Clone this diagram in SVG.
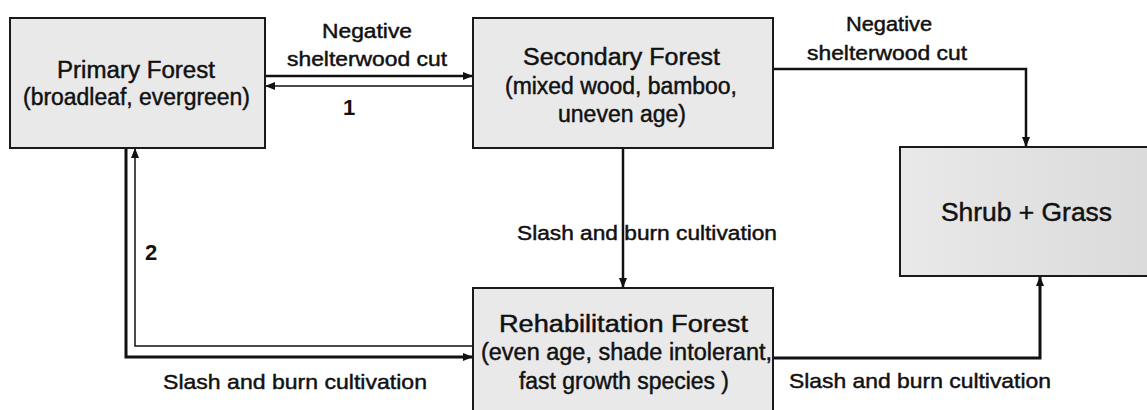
<svg xmlns="http://www.w3.org/2000/svg" width="1147" height="410" viewBox="0 0 1147 410">
<style>
.box{fill:#e9e9e9;stroke:#1a1a1a;stroke-width:2}
.t{font-family:"Liberation Sans",Arial,sans-serif;fill:#111;stroke:#111;stroke-width:0.45}
.n{font-size:23px}
.l{font-size:20px}
.b{font-size:21px}
.num{font-size:22px;font-weight:bold;stroke-width:0}
.thick{fill:none;stroke:#111;stroke-width:3}
.mid{fill:none;stroke:#111;stroke-width:2.5}
.thin{fill:none;stroke:#111;stroke-width:1.5}
</style>
<defs>
<marker id="ah" viewBox="0 0 10 8" refX="10" refY="4" markerWidth="11" markerHeight="8" markerUnits="userSpaceOnUse" orient="auto">
<path d="M0,0 L10,4 L0,8 z" fill="#111"/>
</marker>
<linearGradient id="shrubfill" x1="0" y1="0" x2="1" y2="0">
<stop offset="0" stop-color="#e9e9e9"/>
<stop offset="1" stop-color="#dadada"/>
</linearGradient>
</defs>
<rect width="1147" height="410" fill="#ffffff"/>
<g id="connectors">
<path class="mid" d="M265,76 H473" marker-end="url(#ah)"/>
<path class="thin" d="M473,86 H265" marker-end="url(#ah)"/>
<path class="mid" d="M773,69 H1026 V147" marker-end="url(#ah)"/>
<path class="mid" d="M623,148 V288" marker-end="url(#ah)"/>
<path class="thick" d="M126,148 V357 H473" marker-end="url(#ah)"/>
<path class="thin" d="M473,346 H135 V148" marker-end="url(#ah)"/>
<path class="thick" d="M773,358 H1040 V276" marker-end="url(#ah)"/>
<text class="t l" x="322" y="38" textLength="90" lengthAdjust="spacingAndGlyphs">Negative</text>
<text class="t l" x="287" y="66" textLength="160" lengthAdjust="spacingAndGlyphs">shelterwood cut</text>
<text class="t num" x="343" y="115">1</text>
<text class="t l" x="846" y="31" textLength="86" lengthAdjust="spacingAndGlyphs">Negative</text>
<text class="t l" x="807" y="60" textLength="160" lengthAdjust="spacingAndGlyphs">shelterwood cut</text>
<text class="t l" x="517" y="240" textLength="260" lengthAdjust="spacingAndGlyphs">Slash and burn cultivation</text>
<text class="t num" x="145" y="260">2</text>
<text class="t b" x="163" y="389" textLength="264" lengthAdjust="spacingAndGlyphs">Slash and burn cultivation</text>
<text class="t b" x="789" y="388" textLength="262" lengthAdjust="spacingAndGlyphs">Slash and burn cultivation</text>
</g>
<g id="primary">
<rect class="box" x="10" y="18" width="255" height="130"/>
<text class="t n" x="57" y="78" textLength="158" lengthAdjust="spacingAndGlyphs">Primary Forest</text>
<text class="t n" x="23" y="105" textLength="227" lengthAdjust="spacingAndGlyphs">(broadleaf, evergreen)</text>
</g>
<g id="secondary">
<rect class="box" x="473" y="18" width="300" height="130"/>
<text class="t n" x="523" y="65" textLength="197" lengthAdjust="spacingAndGlyphs">Secondary Forest</text>
<text class="t n" x="505" y="94" textLength="232" lengthAdjust="spacingAndGlyphs">(mixed wood, bamboo,</text>
<text class="t n" x="558" y="122" textLength="128" lengthAdjust="spacingAndGlyphs">uneven age)</text>
</g>
<g id="shrub">
<rect class="box" x="900" y="147" width="260" height="129" style="fill:url(#shrubfill)"/>
<text class="t" x="941" y="221" font-size="25" textLength="171" lengthAdjust="spacingAndGlyphs">Shrub + Grass</text>
</g>
<g id="rehab">
<rect class="box" x="473" y="288" width="300" height="125"/>
<text class="t n" x="499" y="332" textLength="249" lengthAdjust="spacingAndGlyphs">Rehabilitation Forest</text>
<text class="t n" x="481" y="360" textLength="291" lengthAdjust="spacingAndGlyphs">(even age, shade intolerant,</text>
<text class="t n" x="519" y="389" textLength="210" lengthAdjust="spacingAndGlyphs">fast growth species )</text>
</g>
</svg>
